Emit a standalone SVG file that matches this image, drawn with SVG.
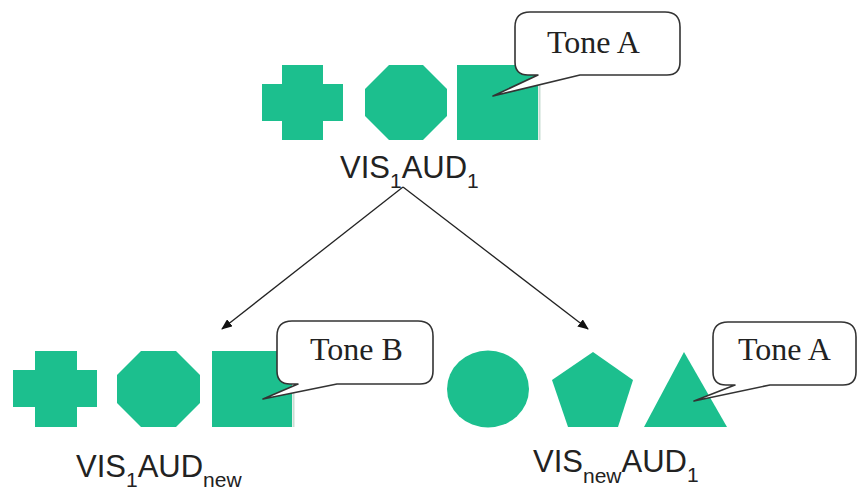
<svg xmlns="http://www.w3.org/2000/svg" width="858" height="492" viewBox="0 0 858 492">
<defs>
<style>
.sh{fill:#1cbf8e;}
.edge{stroke:#c9dcd3;stroke-width:2;fill:none;}
.callout{fill:#fff;stroke:#333;stroke-width:1.6;stroke-linejoin:round;}
.tone{font-family:"Liberation Serif","Times New Roman",serif;font-size:32px;fill:#222;}
.lbl{font-family:"Liberation Sans",Arial,sans-serif;font-size:31px;fill:#222;}
.sub{font-size:21px;}
.conn{stroke:#222;stroke-width:1.3;fill:none;marker-end:url(#ah);}
</style>
<marker id="ah" viewBox="0 0 11 9" refX="10" refY="4.5" markerWidth="11" markerHeight="9" markerUnits="userSpaceOnUse" orient="auto">
<path d="M0,0 L11,4.5 L0,9 Z" fill="#111"/>
</marker>
</defs>
<rect width="858" height="492" fill="#fff"/>

<g id="connectors">
<line class="conn" x1="403" y1="187" x2="222" y2="329"/>
<line class="conn" x1="403" y1="187" x2="588" y2="329"/>
</g>

<g id="node-top">
<path class="sh" d="M282,65 H323 V84 H343 V121 H323 V140 H282 V121 H262 V84 H282 Z"/>
<path class="sh" d="M389,65 H423 L447,89 V116 L423,140 H389 L365,116 V89 Z"/>
<rect class="sh" x="457" y="65" width="81" height="75"/>
<line class="edge" x1="539.5" y1="65" x2="539.5" y2="140"/>
<path class="callout" d="M530,12 H665 Q680,12 680,27 V62 Q680,75 667,75 H580 L493,96 L538,75 H528 Q515,75 515,62 V27 Q515,12 530,12 Z"/>
<text class="tone" x="547" y="53">Tone A</text>
<text class="lbl" x="340" y="178">VIS<tspan class="sub" dy="10">1</tspan><tspan dy="-10">AUD</tspan><tspan class="sub" dy="10">1</tspan></text>
</g>

<g id="node-left">
<path class="sh" d="M35,351 H77 V370 H97 V407 H77 V427 H35 V407 H13 V370 H35 Z"/>
<path class="sh" d="M141,351 H176 L200,375 V403 L176,427 H141 L117,403 V375 Z"/>
<rect class="sh" x="212" y="351" width="80" height="76"/>
<line class="edge" x1="293.5" y1="351" x2="293.5" y2="427"/>
<path class="callout" d="M292,321 H418 Q433,321 433,336 V371 Q433,384 420,384 H337 L263,399 L298,384 H290 Q277,384 277,371 V336 Q277,321 292,321 Z"/>
<text class="tone" x="310" y="360">Tone B</text>
<text class="lbl" x="76" y="477">VIS<tspan class="sub" dy="10">1</tspan><tspan dy="-10">AUD</tspan><tspan class="sub" dy="10">new</tspan></text>
</g>

<g id="node-right">
<ellipse class="sh" cx="488" cy="389" rx="41" ry="38.5"/>
<path class="sh" d="M593,352 L633,380 L618,427 H568 L552,380 Z"/>
<path class="sh" d="M684,352 L727,427 H644 Z"/>
<path class="callout" d="M728,322 H841 Q856,322 856,337 V372 Q856,385 843,385 H770 L694,401 L735,385 H726 Q713,385 713,372 V337 Q713,322 728,322 Z"/>
<text class="tone" x="738" y="360">Tone A</text>
<text class="lbl" x="533" y="472">VIS<tspan class="sub" dy="11">new</tspan><tspan dy="-11">AUD</tspan><tspan class="sub" dy="10">1</tspan></text>
</g>
</svg>
